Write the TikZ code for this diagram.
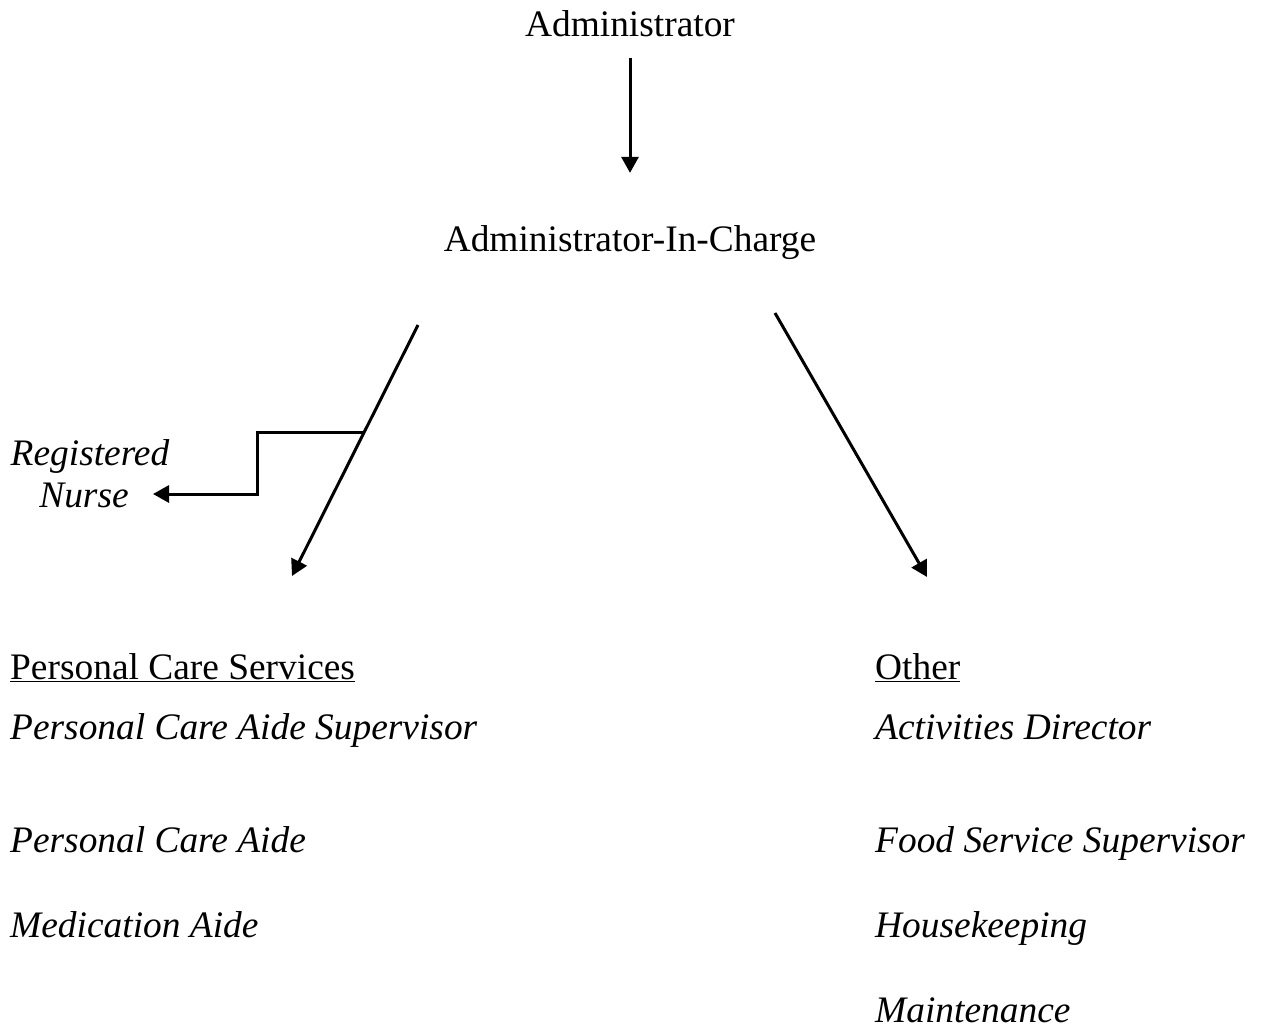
\documentclass[tikz,border=0pt]{standalone}
\usepackage{fontspec}
\setmainfont{Liberation Serif}
\usetikzlibrary{arrows.meta}

\tikzset{
  lbl/.style={inner sep=0pt, font=\fontsize{37.4}{44}\selectfont},
  item/.style={lbl, anchor=base west, font=\fontsize{37.4}{44}\selectfont\itshape},
  arr/.style={-{Triangle[length=16pt,width=17pt]}, line width=3pt}
}

\begin{document}
\begin{tikzpicture}[x=1pt,y=-1pt]
        \useasboundingbox (0,0) rectangle (1261,1030);

        % Top of the chart
        \node[lbl, anchor=base] (admin) at (630,37) {Administrator};
        \node[lbl, anchor=base] (aic) at (630,251) {Administrator-In-Charge};
        \draw[arr, shorten <=20pt, shorten >=52pt] (admin.south) -- (aic.north);

        % Branches
        \coordinate (lTop) at (418,325);
        \coordinate (lTip) at (292,576);
        \coordinate (rTop) at (775,313);
        \coordinate (rTip) at (927,577);
        \draw[arr] (lTop) -- (lTip);
        \draw[arr] (rTop) -- (rTip);

        % Registered nurse
        \node[item, anchor=base] (reg) at (90,465) {Registered};
        \node[item, anchor=base] (nurse) at (84,507) {Nurse};
        \coordinate (join) at (364,432);
        \coordinate (rnTip) at (153,494);
        \draw[arr] (join) -- (257,432) -- (257,494) -- (rnTip);

        % Personal care services
        \node[lbl, anchor=base west] (pcs) at (10,679) {\underline{Personal Care Services}};
        \foreach \n/\y/\t in {l1/739/Personal Care Aide Supervisor, l2/852/Personal Care Aide, l3/937/Medication Aide} {
            \node[item] (\n) at (10,\y) {\t};
        }

        % Other
        \node[lbl, anchor=base west] (other) at (875,679) {\underline{Other}};
        \foreach \n/\y/\t in {r1/739/Activities Director, r2/852/Food Service Supervisor, r3/937/Housekeeping, r4/1022/Maintenance} {
            \node[item] (\n) at (875,\y) {\t};
        }
\end{tikzpicture}
\end{document}
